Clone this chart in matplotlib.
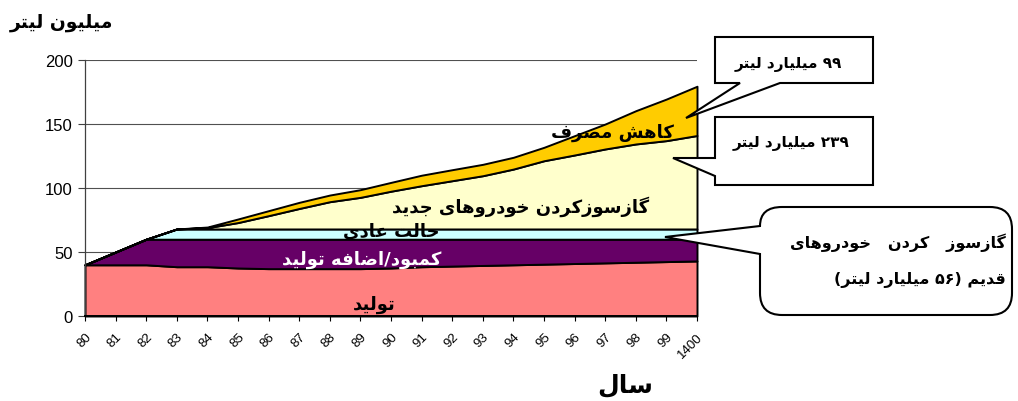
import re
import numpy as np
import matplotlib.pyplot as plt
from matplotlib.path import Path
from matplotlib.patches import PathPatch, Polygon

# category labels (years)
years = ['80', '81', '82', '83', '84', '85', '86', '87', '88', '89', '90',
         '91', '92', '93', '94', '95', '96', '97', '98', '99', '1400']

# upper edge of each stacked band (million litres)
production = [40, 40, 40, 38.5, 38.5, 37.5, 37, 37, 37, 37, 37.5,
              38.5, 39, 39.5, 40, 40.5, 41, 41.5, 42, 42.5, 43]
shortage_top = [40, 50, 60, 60, 60, 60, 60, 60, 60, 60, 60,
                60, 60, 60, 60, 60, 60, 60, 60, 60, 60]
normal_top = [40, 50, 60, 68, 68, 68, 68, 68, 68, 68, 68,
              68, 68, 68, 68, 68, 68, 68, 68, 68, 68]
new_cars_top = [40, 50, 60, 68, 69, 73, 78.4, 84, 89.3, 92.7, 97.5,
                101.8, 105.7, 109.6, 114.8, 121.3, 125.8, 130.5, 134.4, 137, 141]
saving_top = [40, 50, 60, 68, 69.5, 75.8, 82.3, 88.8, 94.5, 98.7, 104.4,
              110, 114.3, 118.5, 124, 131.8, 140.9, 150, 160.4, 169.5, 179.5]

band_names = ['تولید', 'کمبود/اضافه تولید', 'حالت عادی',
              'گازسوزکردن خودروهای جدید', 'کاهش مصرف']
band_colors = ['#FF8080', '#660066', '#CCFFFF', '#FFFFCC', '#FFCC00']
yticks = [0, 50, 100, 150, 200]

# --- simple Persian shaping (matplotlib does not join Arabic letters) ---
FORMS = {
    'ا': (0xFE8D, False), 'ب': (0xFE8F, True), 'ت': (0xFE95, True),
    'ج': (0xFE9D, True), 'ح': (0xFEA1, True), 'خ': (0xFEA5, True),
    'د': (0xFEA9, False), 'ر': (0xFEAD, False), 'ز': (0xFEAF, False),
    'س': (0xFEB1, True), 'ش': (0xFEB5, True), 'ص': (0xFEB9, True),
    'ض': (0xFEBD, True), 'ع': (0xFEC9, True), 'ف': (0xFED1, True),
    'ق': (0xFED5, True), 'ل': (0xFEDD, True), 'م': (0xFEE1, True),
    'ن': (0xFEE5, True), 'ه': (0xFEE9, True), 'و': (0xFEED, False),
    'ک': (0xFB8E, True), 'گ': (0xFB92, True), 'ی': (0xFBFC, True),
}


def fa(text):
    out = []
    for i, ch in enumerate(text):
        if ch not in FORMS:
            out.append(ch)
            continue
        base, dual = FORMS[ch]
        prev = text[i - 1] if i > 0 else ''
        nxt = text[i + 1] if i + 1 < len(text) else ''
        join_prev = prev in FORMS and FORMS[prev][1]
        join_next = dual and nxt in FORMS
        if join_prev and join_next:
            code = base + 3
        elif join_prev:
            code = base + 1
        elif join_next:
            code = base + 2
        else:
            code = base
        out.append(chr(code))
    vis = ''.join(reversed(out))
    # digit runs stay left-to-right, brackets get mirrored
    vis = re.sub('[۰-۹0-9]+', lambda m: m.group(0)[::-1], vis)
    return vis.translate(str.maketrans('()', ')('))


FA_FONT = dict(family='DejaVu Sans', fontweight='bold')

fig = plt.figure(figsize=(10.18, 4.02), dpi=100)
ax = fig.add_axes([85 / 1018, 1 - 317 / 402, 612 / 1018, 256 / 402])

x = np.arange(len(years))
tops = np.array([production, shortage_top, normal_top, new_cars_top, saving_top])
layers = np.vstack([tops[0], np.diff(tops, axis=0)])
polys = ax.stackplot(x, layers, colors=band_colors, edgecolor='black',
                     linewidth=1.4, zorder=2)
for p in polys:
    p.set_clip_on(False)

ax.set_xlim(0, len(years) - 1)
ax.set_ylim(0, 200)
ax.set_yticks(yticks)
ax.set_yticklabels([str(v) for v in yticks], family='Liberation Sans', fontsize=12)
ax.set_xticks(x)
ax.set_xticklabels(years, rotation=45, ha='right', va='top',
                   rotation_mode='anchor', family='Liberation Sans', fontsize=9.5)
ax.tick_params(axis='y', direction='out', length=5, width=0.8, pad=4, colors='#404040',
               labelcolor='black')
ax.tick_params(axis='x', direction='out', length=3.5, width=0.8, pad=7)
for v in yticks[1:]:
    ax.axhline(v, color='#505050', linewidth=0.8, zorder=1)
ax.spines['top'].set_visible(False)
ax.spines['right'].set_visible(False)
ax.spines['left'].set_color('#404040')
ax.spines['left'].set_linewidth(0.9)
ax.spines['bottom'].set_linewidth(1.4)

# band labels
ax.text(9.44, 9.4, fa(band_names[0]), ha='center', va='center', fontsize=13, color='black', **FA_FONT)
ax.text(9.05, 44.5, fa(band_names[1]), ha='center', va='center', fontsize=13, color='white', **FA_FONT)
ax.text(10.0, 66.4, fa(band_names[2]), ha='center', va='center', fontsize=13, color='black', **FA_FONT)
ax.text(14.25, 86, fa(band_names[3]), ha='center', va='center', fontsize=13, color='black', **FA_FONT)
ax.text(17.25, 143.8, fa(band_names[4]), ha='center', va='center', fontsize=13, color='black', **FA_FONT)

# overlay in pixel coordinates for titles and callouts
ov = fig.add_axes([0, 0, 1, 1], zorder=5)
ov.set_xlim(0, 1018)
ov.set_ylim(402, 0)
ov.axis('off')

ov.text(62, 23, fa('میلیون لیتر'), ha='center', va='center', fontsize=13.5, **FA_FONT)
ov.text(625, 385, fa('سال'), ha='center', va='center', fontsize=18, **FA_FONT)

box1 = [(715, 38), (873, 38), (873, 84), (780, 84), (686, 119), (740, 84), (715, 84)]
ov.add_patch(Polygon(box1, closed=True, facecolor='white', edgecolor='black', linewidth=1.5))
ov.text(788, 65, fa('۹۹ میلیارد لیتر'), ha='center', va='center', fontsize=11, **FA_FONT)

box2 = [(715, 118), (873, 118), (873, 186), (715, 186), (715, 177), (673, 159), (715, 159)]
ov.add_patch(Polygon(box2, closed=True, facecolor='white', edgecolor='black', linewidth=1.5))
ov.text(791, 144, fa('۲۳۹ میلیارد لیتر'), ha='center', va='center', fontsize=11, **FA_FONT)

r = 22
L, T, R, B = 760, 208, 1012, 316
verts = [(L, 227), (L, T), (L + r, T),
         (R - r, T), (R, T), (R, T + r),
         (R, B - r), (R, B), (R - r, B),
         (L + r, B), (L, B), (L, B - r),
         (L, 255), (665, 238), (L, 227)]
codes = [Path.MOVETO, Path.CURVE3, Path.CURVE3,
         Path.LINETO, Path.CURVE3, Path.CURVE3,
         Path.LINETO, Path.CURVE3, Path.CURVE3,
         Path.LINETO, Path.CURVE3, Path.CURVE3,
         Path.LINETO, Path.LINETO, Path.CLOSEPOLY]
ov.add_patch(PathPatch(Path(verts, codes), facecolor='white', edgecolor='black', linewidth=1.5))
ov.text(1006, 243, fa('گازسوز   کردن   خودروهای'), ha='right', va='center', fontsize=11.5, **FA_FONT)
ov.text(1006, 280, fa('قدیم (۵۶ میلیارد لیتر)'), ha='right', va='center', fontsize=11.5, **FA_FONT)

fig.savefig('out.png', dpi=100)
